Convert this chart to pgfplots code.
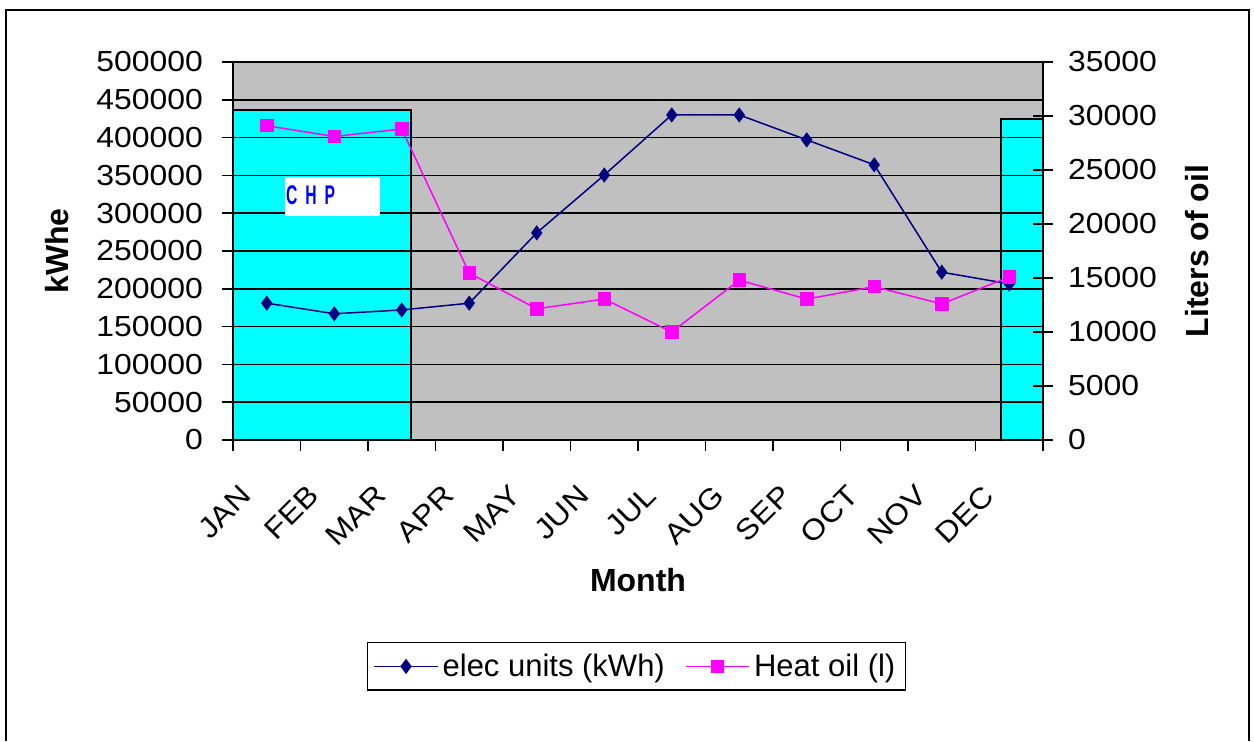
\documentclass[border=0pt]{standalone}
\usepackage{pgfplots}
\pgfplotsset{compat=1.18}
\usepackage{fontspec}
\setmainfont{Liberation Sans}
\newfontfamily\tickfont{Liberation Sans}[FakeStretch=1.1]
\usepackage{graphicx}
\definecolor{plotgray}{RGB}{192,192,192}
\definecolor{navyc}{RGB}{0,0,128}
\definecolor{magc}{RGB}{255,0,255}
\definecolor{cyanx}{RGB}{0,255,255}
\definecolor{chpblue}{RGB}{0,0,255}
\pgfplotsset{
  base/.style={
    at={(116.5pt,150.5pt)}, anchor=south west,
    scale only axis, width=405pt, height=189pt,
    xmin=0, xmax=12,
    scaled y ticks=false,
    yticklabel style={font=\tickfont\fontsize{14.5}{17}\selectfont,
      /pgf/number format/fixed, /pgf/number format/precision=0,
      /pgf/number format/1000 sep={}, /pgf/number format/assume math mode=true},
    xticklabel style={font=\tickfont\fontsize{14.5}{17}\selectfont},
  }
}
\begin{document}
\begin{tikzpicture}[x=1pt,y=1pt]
\useasboundingbox (0,0) rectangle (627,370.5);
\draw[line width=1.2pt] (3,0) -- (3,365.5) -- (624.5,365.5) -- (624.5,0);

% background + CHP periods
\begin{axis}[base, ymin=0, ymax=35000,
  axis line style={draw=none}, ticks=none,
  axis background/.style={fill=plotgray}]
\addplot[fill=cyanx, draw=black, line width=0.8pt] coordinates {(0,30550) (2.637,30550)} \closedcycle;
\addplot[fill=cyanx, draw=black, line width=1pt] coordinates {(11.378,29720) (12,29720)} \closedcycle;
\end{axis}

% left axis: electricity
\begin{axis}[base, ymin=0, ymax=500000,
  axis x line*=bottom, axis y line*=left,
  axis line style={line width=0.9pt},
  ytick={0,50000,100000,150000,200000,250000,300000,350000,400000,450000,500000},
  yticklabel style={xshift=-6pt},
  ymajorgrids, grid style={black, line width=0.8pt},
  tick align=outside, major tick length=5.5pt,
  tick style={black, line width=0.8pt},
  xtick={0,1,2,3,4,5,6,7,8,9,10,11,12}, xticklabels={},
  extra x ticks={0.5,1.5,2.5,3.5,4.5,5.5,6.5,7.5,8.5,9.5,10.5,11.5},
  extra x tick labels={JAN,FEB,MAR,APR,MAY,JUN,JUL,AUG,SEP,OCT,NOV,DEC},
  extra x tick style={major tick length=0pt,
    xticklabel style={xshift=-14pt, yshift=-21.5pt, rotate=45, anchor=north east, inner sep=0pt}},
  xlabel={\textbf{Month}},
  xlabel style={at={(axis description cs:0.5,-0.37)}, anchor=center, font=\fontsize{16}{19}\selectfont},
  ylabel={\textbf{kWhe}},
  ylabel style={at={(axis description cs:-0.217,0.5)}, anchor=center, font=\fontsize{16}{19}\selectfont},
  clip=false]
\addplot[navyc, line width=0.75pt, mark=diamond*, mark size=3.2pt] coordinates {
(0.5,181000) (1.5,167000) (2.5,172000) (3.5,181000) (4.5,274000) (5.5,350500)
(6.5,430000) (7.5,430000) (8.5,397000) (9.5,364000) (10.5,222000) (11.5,206500)};
\end{axis}

% right axis: heating oil
\begin{axis}[base, ymin=0, ymax=35000,
  axis y line*=right, axis x line=none,
  axis line style={line width=1.2pt},
  ytick={0,5000,10000,15000,20000,25000,30000,35000},
  yticklabel style={xshift=4pt},
  tick align=center, major tick length=10pt,
  tick style={black, line width=0.8pt},
  ylabel={\textbf{Liters of oil}},
  ylabel style={at={(axis description cs:1.19,0.5)}, anchor=center, rotate=0, font=\fontsize{16}{19}\selectfont},
  legend columns=2,
  legend style={at={(axis description cs:0.498,-0.599)}, anchor=center,
    draw=black, line width=0.8pt, font=\fontsize{15.5}{18}\selectfont,
    /tikz/every even column/.append style={column sep=8pt},
    inner ysep=3.5pt, inner xsep=3pt},
  legend image code/.code={\draw[mark repeat=2,mark phase=2] plot coordinates {(0cm,0cm) (0.56cm,0cm) (1.12cm,0cm)};},
  clip=false]
\addlegendimage{navyc, line width=0.75pt, mark=diamond*, mark size=3.2pt}
\addlegendentry{elec units (kWh)}
\addplot[magc, line width=0.75pt, mark=square*, mark size=3pt] coordinates {
(0.5,29100) (1.5,28100) (2.5,28800) (3.5,15450) (4.5,12150) (5.5,13050)
(6.5,10000) (7.5,14800) (8.5,13050) (9.5,14200) (10.5,12600) (11.5,15100)};
\addlegendentry{Heat oil (l)}
\end{axis}

% CHP label
\fill[white] (142.5,262.5) rectangle (190,282);
\node[anchor=west, text=chpblue, inner sep=0pt, font=\bfseries\fontsize{13.5}{15}\selectfont] at (142.8,273)
  {\scalebox{0.58}[1]{C}\hspace{4pt}\scalebox{0.58}[1]{H}\hspace{4pt}\scalebox{0.58}[1]{P}};
\end{tikzpicture}
\end{document}
